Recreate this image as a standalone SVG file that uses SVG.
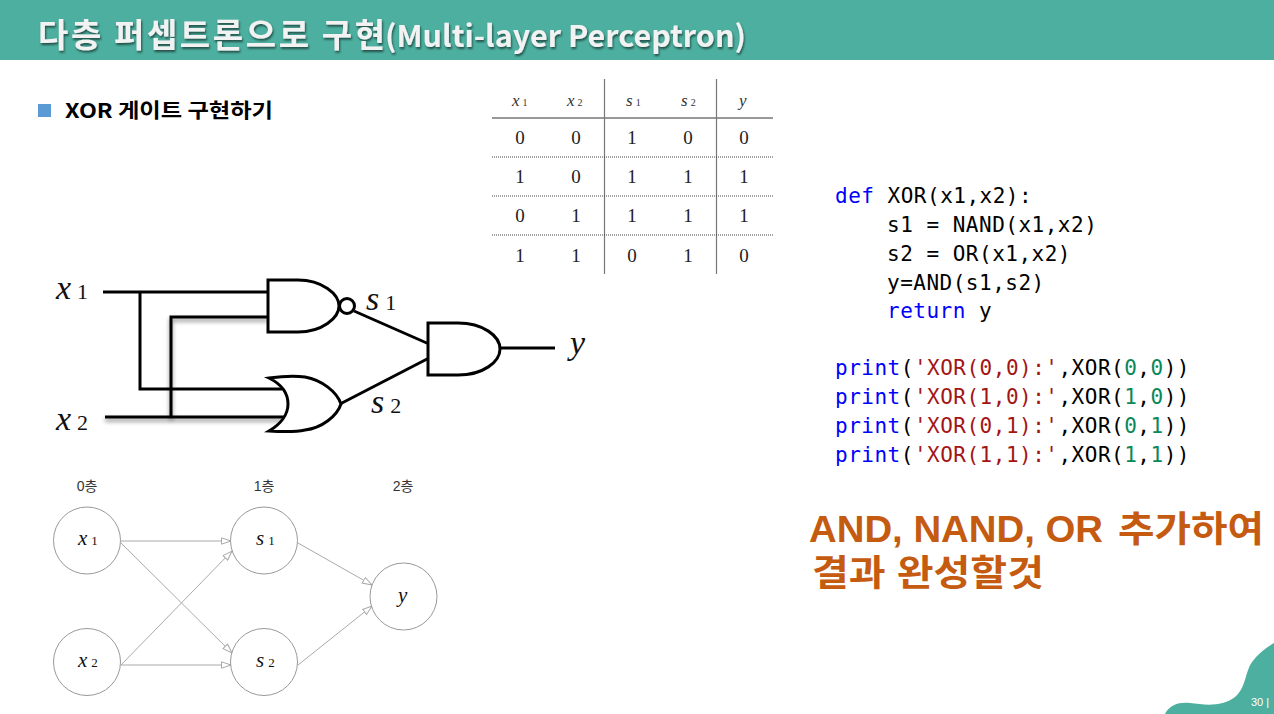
<svg xmlns="http://www.w3.org/2000/svg" width="1274" height="714" viewBox="0 0 1274 714">
<style>
.ko{font-family:"Noto Sans CJK KR","Noto Sans",sans-serif}
.t{font-family:"Liberation Serif",serif;font-size:19px;fill:#222;text-anchor:middle}
.th{font-family:"Liberation Serif",serif;font-size:17px;font-style:italic;fill:#333}
.sub{font-size:10px;font-style:normal}
.code{font-family:"DejaVu Sans Mono",monospace;font-size:21px;letter-spacing:.5px;fill:#000;white-space:pre}
.kw{fill:#0000ff}.str{fill:#a31515}.num{fill:#09885a}
.w{fill:none;stroke:#000;stroke-width:3}
.g{fill:#fff;stroke:#000;stroke-width:3}
.lab{font-family:"Liberation Serif",serif;font-size:34px;font-style:italic;fill:#111}
.labs{font-size:22px;font-style:normal}
.nn{fill:#fff;stroke:#999;stroke-width:1}
.nl{font-family:"Liberation Serif",serif;font-size:21px;font-style:italic;fill:#111}
.nls{font-size:13px;font-style:normal}
.e{stroke:#aaa;stroke-width:1;fill:none;marker-end:url(#ah)}
.ly{font-family:"Liberation Sans","Noto Sans CJK KR",sans-serif;font-size:14px;fill:#333;text-anchor:middle}
.orange{font-family:"Liberation Sans","Noto Sans CJK KR",sans-serif;font-size:36px;font-weight:700;fill:#c55a11}
</style>
<defs>
<marker id="ah" markerWidth="11" markerHeight="8" refX="10" refY="4" orient="auto" markerUnits="userSpaceOnUse"><path d="M0.5 0.8L10 4L0.5 7.2Z" fill="#fff" stroke="#aaa" stroke-width="1"/></marker>
<filter id="sh" x="-10%" y="-10%" width="120%" height="130%"><feDropShadow dx="1" dy="2" stdDeviation="1" flood-color="#000" flood-opacity=".55"/></filter>
<filter id="wsh" filterUnits="userSpaceOnUse" x="90" y="300" width="200" height="135"><feDropShadow dx="0" dy="3" stdDeviation="2" flood-color="#000" flood-opacity=".45"/></filter>
</defs>

<g id="header">
<rect width="1274" height="60" fill="#4caf9f"/>
<text y="47" class="ko" font-size="30" font-weight="700" fill="#f2f2f2" filter="url(#sh)"><tspan x="38" font-size="33" textLength="347" lengthAdjust="spacing">다층 퍼셉트론으로 구현</tspan><tspan x="385" textLength="361" lengthAdjust="spacingAndGlyphs">(Multi-layer Perceptron)</tspan></text>
</g>
<g id="footer">
<path d="M1165 714C1170 704 1180 702 1190 703C1205 705 1222 707 1235 697C1246 688 1245 672 1252 662C1258 654 1265 648 1274 643V714Z" fill="#4caf9f"/>
<text x="1251" y="706" font-family="Liberation Sans,sans-serif" font-size="11" fill="#fff">30 |</text>
</g>
<g id="bullet">
<rect x="38" y="104" width="13" height="13" fill="#5b9bd5"/>
<text x="65" y="118" class="ko" font-size="20" font-weight="700" fill="#000" textLength="208" lengthAdjust="spacingAndGlyphs">XOR 게이트 구현하기</text>
</g>

<g id="truth-table">
<g stroke="#777" fill="none">
<path d="M492 118H773" stroke-width="1.5"/>
<path d="M604.500 79V274M716.500 79V274" stroke-width="1.2"/>
<path d="M492 157H773M492 196H773M492 235H773" stroke-width="1" stroke-dasharray="1 1" stroke="#444"/>
</g>
<text class="th" x="512" y="106">x<tspan class="sub" dx="3">1</tspan></text>
<text class="th" x="567" y="106">x<tspan class="sub" dx="3">2</tspan></text>
<text class="th" x="626" y="106">s<tspan class="sub" dx="3">1</tspan></text>
<text class="th" x="681" y="106">s<tspan class="sub" dx="3">2</tspan></text>
<text class="th" x="739" y="106">y</text>
<text class="t" x="520" y="144">0</text><text class="t" x="576" y="144">0</text><text class="t" x="632" y="144">1</text><text class="t" x="688" y="144">0</text><text class="t" x="744" y="144">0</text>
<text class="t" x="520" y="183">1</text><text class="t" x="576" y="183">0</text><text class="t" x="632" y="183">1</text><text class="t" x="688" y="183">1</text><text class="t" x="744" y="183">1</text>
<text class="t" x="520" y="222">0</text><text class="t" x="576" y="222">1</text><text class="t" x="632" y="222">1</text><text class="t" x="688" y="222">1</text><text class="t" x="744" y="222">1</text>
<text class="t" x="520" y="262">1</text><text class="t" x="576" y="262">1</text><text class="t" x="632" y="262">0</text><text class="t" x="688" y="262">1</text><text class="t" x="744" y="262">0</text>
</g>

<g id="circuit-wires">
<path class="w" d="M103 292H268M140 292V389H282"/>
<path class="w" d="M268 317H171V417" filter="url(#wsh)"/>
<path class="w" d="M105 417H286" filter="url(#wsh)"/>
<path class="w" d="M354 311L429 344M340 404L429 358"/>
<path class="w" d="M500 348H555"/>
</g>
<g id="gate-nand">
<path class="g" d="M268 280H298C322 280 339 294 339 306C339 318 322 332 298 332H268Z"/>
<circle class="g" cx="347" cy="306" r="7.500"/>
</g>
<g id="gate-or">
<path class="g" d="M269 378C285 376 296 376 305 377C322 380 337 392 341 404C337 416 322 428 305 430C296 432 285 432 269 431C281 424 288 414 288 404C288 393 281 384 269 378Z"/>
</g>
<g id="gate-and">
<path class="g" d="M428 323H458C483 323 500 336 500 349C500 362 483 375 458 375H428Z"/>
</g>
<g id="circuit-labels">
<text class="lab" x="56" y="299">x<tspan class="labs" dx="6">1</tspan></text>
<text class="lab" x="56" y="430">x<tspan class="labs" dx="6">2</tspan></text>
<text class="lab" x="366" y="310">s<tspan class="labs" dx="6">1</tspan></text>
<text class="lab" x="371" y="413">s<tspan class="labs" dx="6">2</tspan></text>
<text class="lab" x="570" y="354">y</text>
</g>

<g id="connectors">
<path class="e" d="M121 541H231"/>
<path class="e" d="M121 543L232 653"/>
<path class="e" d="M121 665L232 551"/>
<path class="e" d="M121 665H231"/>
<path class="e" d="M298 543L372 585"/>
<path class="e" d="M298 665L372 606"/>
</g>
<g id="layer-labels">
<text class="ly" x="87" y="491">0층</text>
<text class="ly" x="264" y="491">1층</text>
<text class="ly" x="403" y="491">2층</text>
</g>
<g id="node-x1"><circle class="nn" cx="87" cy="540.500" r="33.500"/><text class="nl" x="78" y="545">x<tspan class="nls" dx="4">1</tspan></text></g>
<g id="node-x2"><circle class="nn" cx="87" cy="662" r="33.500"/><text class="nl" x="78" y="667">x<tspan class="nls" dx="4">2</tspan></text></g>
<g id="node-s1"><circle class="nn" cx="264" cy="540.500" r="33.500"/><text class="nl" x="256" y="545">s<tspan class="nls" dx="4">1</tspan></text></g>
<g id="node-s2"><circle class="nn" cx="264" cy="662" r="33.500"/><text class="nl" x="256" y="667">s<tspan class="nls" dx="4">2</tspan></text></g>
<g id="node-y"><circle class="nn" cx="403.500" cy="596.500" r="33.500"/><text class="nl" x="398" y="602">y</text></g>

<g id="code">
<text class="code" x="835" y="203"><tspan class="kw">def</tspan> XOR(x1,x2):</text>
<text class="code" x="887" y="232">s1 = NAND(x1,x2)</text>
<text class="code" x="887" y="261">s2 = OR(x1,x2)</text>
<text class="code" x="887" y="290">y=AND(s1,s2)</text>
<text class="code" x="887" y="318"><tspan class="kw">return</tspan> y</text>
<text class="code" x="835" y="375"><tspan class="kw">print</tspan>(<tspan class="str">'XOR(0,0):'</tspan>,XOR(<tspan class="num">0</tspan>,<tspan class="num">0</tspan>))</text>
<text class="code" x="835" y="404"><tspan class="kw">print</tspan>(<tspan class="str">'XOR(1,0):'</tspan>,XOR(<tspan class="num">1</tspan>,<tspan class="num">0</tspan>))</text>
<text class="code" x="835" y="433"><tspan class="kw">print</tspan>(<tspan class="str">'XOR(0,1):'</tspan>,XOR(<tspan class="num">0</tspan>,<tspan class="num">1</tspan>))</text>
<text class="code" x="835" y="462"><tspan class="kw">print</tspan>(<tspan class="str">'XOR(1,1):'</tspan>,XOR(<tspan class="num">1</tspan>,<tspan class="num">1</tspan>))</text>
</g>
<g id="note">
<text class="orange" y="542"><tspan x="809" textLength="294" lengthAdjust="spacingAndGlyphs">AND, NAND, OR</tspan><tspan x="1118" textLength="146" lengthAdjust="spacingAndGlyphs">추가하여</tspan></text>
<text class="orange" x="812" y="586" textLength="232" lengthAdjust="spacingAndGlyphs">결과 완성할것</text>
</g>
</svg>
